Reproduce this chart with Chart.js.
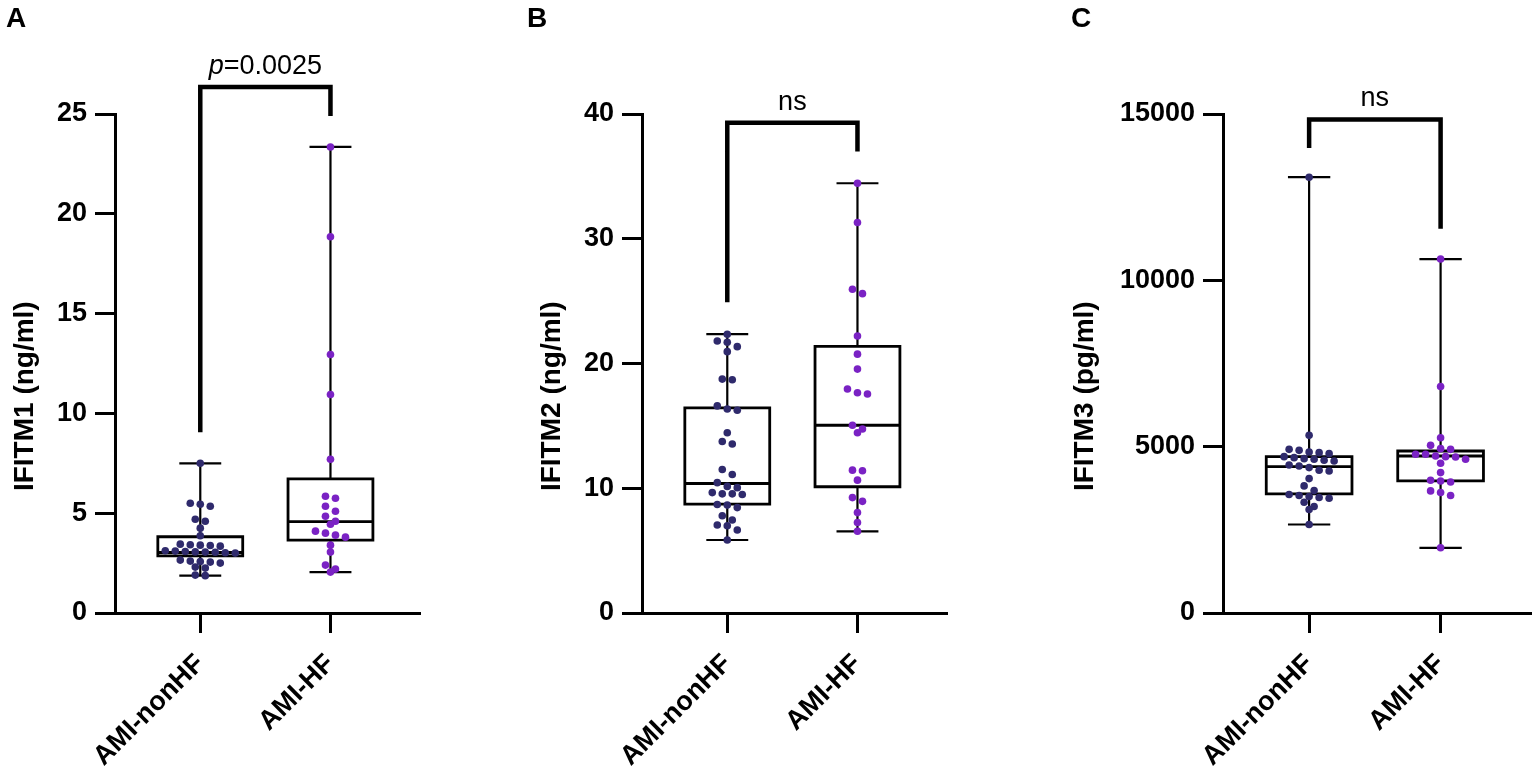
<!DOCTYPE html>
<html><head><meta charset="utf-8">
<script src="https://cdn.jsdelivr.net/npm/chart.js@4.4.1/dist/chart.umd.min.js"></script>
<style>
html,body{margin:0;padding:0;background:#fff;width:1535px;height:776px;overflow:hidden;}
.panel{position:absolute;top:0;height:776px;}
.letter{position:absolute;top:4px;font:bold 28px 'Liberation Sans',Arial,sans-serif;line-height:28px;color:#000;}
canvas{display:block;}
</style></head><body>
<div class="panel" style="left:0px;width:440px"><canvas id="cA" width="440" height="776"></canvas></div>
<div class="panel" style="left:527px;width:433px"><canvas id="cB" width="433" height="776"></canvas></div>
<div class="panel" style="left:1060px;width:475px"><canvas id="cC" width="475" height="776"></canvas></div>
<div class="letter" style="left:6px">A</div>
<div class="letter" style="left:527px">B</div>
<div class="letter" style="left:1071px">C</div>
<script>
// ---------------- DATA ----------------
const categories = ['AMI-nonHF', 'AMI-HF'];
const yTitles = ['IFITM1 (ng/ml)', 'IFITM2 (ng/ml)', 'IFITM3 (pg/ml)'];
const yMax = [25, 40, 15000];
const yStep = [5, 10, 5000];
const sigLabels = ['p=0.0025', 'ns', 'ns'];

// IFITM1 (ng/ml)
const ifitm1NonHF = [7.5, 5.5, 5.45, 5.35, 4.7, 4.6, 4.25, 3.87, 3.45, 3.42, 3.4, 3.38, 3.35,
  3.12, 3.1, 3.08, 3.06, 3.05, 3.04, 3.02, 3.0, 2.65, 2.6, 2.58, 2.55, 2.5, 2.3, 2.25, 1.9, 1.87];
const ifitm1HF = [23.35, 18.85, 12.95, 10.95, 7.7, 5.85, 5.75, 5.35, 5.1, 4.85, 4.6, 4.45, 4.1,
  4.0, 3.9, 3.8, 3.4, 3.05, 2.4, 2.2, 2.05];
// [min, q1, median, q3, max]
const ifitm1BoxNonHF = [1.87, 2.86, 3.03, 3.82, 7.5];
const ifitm1BoxHF = [2.05, 3.65, 4.58, 6.72, 23.35];
// [left leg end, bracket top, right leg end]
const ifitm1Bracket = [9.05, 26.35, 24.9];

// IFITM2 (ng/ml)
const ifitm2NonHF = [22.35, 21.8, 21.7, 21.35, 20.95, 18.75, 18.7, 16.6, 16.35, 16.25, 14.45, 13.75,
  13.55, 11.5, 11.1, 10.45, 10.15, 10.05, 9.65, 9.55, 9.55, 9.5, 8.7, 8.65, 8.45, 7.8, 7.45, 7.05,
  7.0, 6.65, 5.85];
const ifitm2HF = [34.45, 31.3, 25.95, 25.6, 22.2, 20.75, 19.55, 17.95, 17.65, 17.55, 15.05, 14.75,
  14.45, 11.45, 11.4, 10.65, 9.25, 8.95, 8.05, 7.25, 6.55];
const ifitm2BoxNonHF = [5.85, 8.73, 10.38, 16.45, 22.35];
const ifitm2BoxHF = [6.55, 10.12, 15.05, 21.37, 34.45];
const ifitm2Bracket = [24.9, 39.3, 37.0];

// IFITM3 (pg/ml)
const ifitm3NonHF = [13100, 5340, 4920, 4890, 4840, 4820, 4790, 4700, 4670, 4640, 4620, 4590, 4570,
  4450, 4420, 4370, 4290, 4270, 4040, 3820, 3680, 3560, 3530, 3500, 3470, 3450, 3330, 3200, 3110, 2660];
const ifitm3HF = [10640, 6810, 5270, 5040, 4940, 4920, 4770, 4770, 4720, 4700, 4690, 4620, 4500,
  4220, 3990, 3970, 3940, 3670, 3620, 3530, 1960];
const ifitm3BoxNonHF = [2660, 3580, 4400, 4700, 13100];
const ifitm3BoxHF = [1960, 3970, 4720, 4870, 10640];
const ifitm3Bracket = [13975, 14835, 11550];

// ---------------- STYLE / LAYOUT ----------------
const colors = ['#2f2a6c', '#7a22c4'];
const FONT = "'Liberation Sans', Arial, sans-serif";
Chart.defaults.font.family = FONT;
Chart.defaults.color = '#000';

const panels = [
  {id: 'cA', points: [ifitm1NonHF, ifitm1HF], boxes: [ifitm1BoxNonHF, ifitm1BoxHF], bracket: ifitm1Bracket, axisW: 115, padR: 21},
  {id: 'cB', points: [ifitm2NonHF, ifitm2HF], boxes: [ifitm2BoxNonHF, ifitm2BoxHF], bracket: ifitm2Bracket, axisW: 115, padR: 14},
  {id: 'cC', points: [ifitm3NonHF, ifitm3HF], boxes: [ifitm3BoxNonHF, ifitm3BoxHF], bracket: ifitm3Bracket, axisW: 163, padR: 5},
];

const BOX_HALF = 0.326;   // x-units
const CAP_HALF = 0.161;
const LANE = 10;          // px between swarm lanes
const BIN_H = 6;          // px row height for swarm
const TITLE_SHIFT = '\u2004\u2004\u2004\u2004\u2004\u2004\u2004'; // trailing space: moves the rotated title down

function boxOutline(cx, b) {
  const [mn, q1, md, q3, mx] = b;
  return [
    {x: cx, y: q1}, {x: cx + BOX_HALF, y: q1}, {x: cx + BOX_HALF, y: q3},
    {x: cx - BOX_HALF, y: q3}, {x: cx - BOX_HALF, y: q1}, {x: cx, y: q1},
    {x: cx, y: null},
    {x: cx - BOX_HALF, y: md}, {x: cx + BOX_HALF, y: md}
  ];
}
function whiskers(cx, b) {
  const [mn, q1, md, q3, mx] = b;
  return [
    {x: cx, y: mn}, {x: cx, y: q1}, {x: cx, y: null},
    {x: cx, y: q3}, {x: cx, y: mx}, {x: cx, y: null},
    {x: cx - CAP_HALF, y: mn}, {x: cx + CAP_HALF, y: mn}, {x: cx, y: null},
    {x: cx - CAP_HALF, y: mx}, {x: cx + CAP_HALF, y: mx}
  ];
}
function lineDs(data, width, order, extra) {
  return Object.assign({
    type: 'line', data, borderColor: '#000', borderWidth: width, pointRadius: 0,
    fill: false, tension: 0, spanGaps: false, order,
    borderCapStyle: 'butt', borderJoinStyle: 'miter'
  }, extra || {});
}

const sigPlugin = {
  id: 'sigLabel',
  afterDatasetsDraw(chart, args, opts) {
    const xs = chart.scales.x, ys = chart.scales.y, ctx = chart.ctx;
    const cx = (xs.getPixelForValue(1) + xs.getPixelForValue(2)) / 2;
    const y = ys.getPixelForValue(opts.top) - 13;
    ctx.save();
    ctx.fillStyle = '#000';
    ctx.textBaseline = 'alphabetic';
    const text = opts.text;
    if (text.startsWith('p=')) {
      const fi = 'italic 27px ' + FONT, fn = '27px ' + FONT;
      ctx.font = fi; const w1 = ctx.measureText('p').width;
      ctx.font = fn; const w2 = ctx.measureText(text.slice(1)).width;
      let x0 = cx - (w1 + w2) / 2;
      ctx.textAlign = 'left';
      ctx.font = fi; ctx.fillText('p', x0, y);
      ctx.font = fn; ctx.fillText(text.slice(1), x0 + w1, y);
    } else {
      ctx.font = '27px ' + FONT;
      ctx.textAlign = 'center';
      ctx.fillText(text, cx, y);
    }
    ctx.restore();
  }
};

function swarm(chart, dsIndex, center, values) {
  const xs = chart.scales.x, ys = chart.scales.y;
  const cpx = xs.getPixelForValue(center);
  const items = values.map(v => ({v, py: ys.getPixelForValue(v)})).sort((a, b) => a.py - b.py);
  const bins = []; let cur = null;
  for (const it of items) {
    if (!cur || it.py - cur.start > BIN_H) { cur = {start: it.py, m: []}; bins.push(cur); }
    cur.m.push(it);
  }
  const pts = [];
  for (const b of bins) {
    const n = b.m.length;
    b.m.forEach((it, k) => {
      pts.push({x: xs.getValueForPixel(cpx + (k - (n - 1) / 2) * LANE), y: it.v});
    });
  }
  chart.data.datasets[dsIndex].data = pts;
}

panels.forEach((p, i) => {
  const datasets = [
    {type: 'scatter', data: p.points[0].map(v => ({x: 1, y: v})), backgroundColor: colors[0],
      borderWidth: 0, pointRadius: 3.8, pointHoverRadius: 3.8, order: 0},
    {type: 'scatter', data: p.points[1].map(v => ({x: 2, y: v})), backgroundColor: colors[1],
      borderWidth: 0, pointRadius: 3.8, pointHoverRadius: 3.8, order: 0},
    lineDs(boxOutline(1, p.boxes[0]), 2.8, 2),
    lineDs(boxOutline(2, p.boxes[1]), 2.8, 2),
    lineDs(whiskers(1, p.boxes[0]), 2.2, 3),
    lineDs(whiskers(2, p.boxes[1]), 2.2, 3),
    lineDs([{x: 1, y: p.bracket[0]}, {x: 1, y: p.bracket[1]}, {x: 2, y: p.bracket[1]}, {x: 2, y: p.bracket[2]}],
      4.5, 4, {clip: false})
  ];
  const chart = new Chart(document.getElementById(p.id), {
    data: {datasets},
    plugins: [sigPlugin],
    options: {
      responsive: false, animation: false, events: [],
      layout: {padding: {top: 114, bottom: 0, left: 0, right: p.padR}},
      plugins: {legend: {display: false}, tooltip: {enabled: false},
        sigLabel: {text: sigLabels[i], top: p.bracket[1]}},
      scales: {
        x: {
          type: 'linear', min: 0.345, max: 2.68,
          afterBuildTicks: s => { s.ticks = [{value: 1}, {value: 2}]; },
          afterFit: s => { s.height = 163; },
          grid: {display: true, drawOnChartArea: false, drawTicks: true, tickLength: 20, lineWidth: 3, color: '#000'},
          border: {display: true, width: 3, color: '#000'},
          ticks: {autoSkip: false, minRotation: 45, maxRotation: 45, padding: 15,
            font: {size: 27, weight: 'bold'}, color: '#000',
            callback: v => categories[Math.round(v) - 1]}
        },
        y: {
          type: 'linear', min: 0, max: yMax[i],
          afterFit: s => { s.width = p.axisW; },
          grid: {display: true, drawOnChartArea: false, drawTicks: true, tickLength: 20, lineWidth: 3, color: '#000'},
          border: {display: true, width: 3, color: '#000'},
          ticks: {stepSize: yStep[i], padding: 8, font: {size: 27, weight: 'bold'}, color: '#000',
            callback: v => String(v)},
          title: {display: true, text: yTitles[i] + TITLE_SHIFT, font: {size: 28, weight: 'bold'}, color: '#000',
            padding: {top: 8, bottom: 0}}
        }
      }
    }
  });
  swarm(chart, 0, 1, p.points[0]);
  swarm(chart, 1, 2, p.points[1]);
  chart.update('none');
});
</script>
</body></html>
